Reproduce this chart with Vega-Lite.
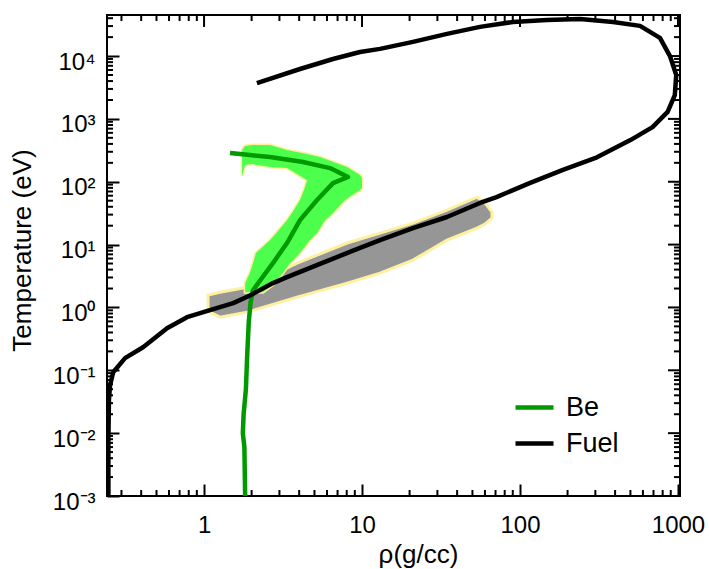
{
  "$schema": "https://vega.github.io/schema/vega-lite/v6.json",
  "width": 573,
  "height": 481,
  "autosize": {"type": "none"},
  "padding": {"left": 107, "top": 15, "right": 29, "bottom": 73},
  "background": "white",
  "config": {
    "font": "Liberation Sans",
    "view": {"stroke": "black", "strokeWidth": 2},
    "axis": {"grid": false, "domain": false, "labelColor": "black", "titleColor": "black", "labelFont": "Liberation Sans", "titleFont": "Liberation Sans", "titleFontWeight": "normal"}
  },
  "datasets": {
    "xmaj": [{"v": 1}, {"v": 10}, {"v": 100}, {"v": 1000}],
    "xmin": [{"v": 0.3}, {"v": 0.4}, {"v": 0.5}, {"v": 0.6}, {"v": 0.7}, {"v": 0.8}, {"v": 0.9}, {"v": 2}, {"v": 3}, {"v": 4}, {"v": 5}, {"v": 6}, {"v": 7}, {"v": 8}, {"v": 9}, {"v": 20}, {"v": 30}, {"v": 40}, {"v": 50}, {"v": 60}, {"v": 70}, {"v": 80}, {"v": 90}, {"v": 200}, {"v": 300}, {"v": 400}, {"v": 500}, {"v": 600}, {"v": 700}, {"v": 800}, {"v": 900}],
    "ymaj": [{"v": 0.001}, {"v": 0.01}, {"v": 0.1}, {"v": 1}, {"v": 10}, {"v": 100}, {"v": 1000}, {"v": 10000}],
    "ymin": [{"v": 0.002}, {"v": 0.003}, {"v": 0.004}, {"v": 0.005}, {"v": 0.006}, {"v": 0.007}, {"v": 0.008}, {"v": 0.009}, {"v": 0.02}, {"v": 0.03}, {"v": 0.04}, {"v": 0.05}, {"v": 0.06}, {"v": 0.07}, {"v": 0.08}, {"v": 0.09}, {"v": 0.2}, {"v": 0.3}, {"v": 0.4}, {"v": 0.5}, {"v": 0.6}, {"v": 0.7}, {"v": 0.8}, {"v": 0.9}, {"v": 2}, {"v": 3}, {"v": 4}, {"v": 5}, {"v": 6}, {"v": 7}, {"v": 8}, {"v": 9}, {"v": 20}, {"v": 30}, {"v": 40}, {"v": 50}, {"v": 60}, {"v": 70}, {"v": 80}, {"v": 90}, {"v": 200}, {"v": 300}, {"v": 400}, {"v": 500}, {"v": 600}, {"v": 700}, {"v": 800}, {"v": 900}, {"v": 2000}, {"v": 3000}, {"v": 4000}, {"v": 5000}, {"v": 6000}, {"v": 7000}, {"v": 8000}, {"v": 9000}, {"v": 20000}, {"v": 30000}, {"v": 40000}],
    "gray": [
      {"rho": 1.06, "lo": 0.873, "hi": 1.57},
      {"rho": 1.26, "lo": 0.701, "hi": 1.75},
      {"rho": 1.87, "lo": 0.842, "hi": 2.10},
      {"rho": 3.88, "lo": 1.46, "hi": 5.07},
      {"rho": 8.04, "lo": 2.44, "hi": 10.6},
      {"rho": 13.0, "lo": 3.52, "hi": 15.2},
      {"rho": 21.0, "lo": 5.67, "hi": 22.0},
      {"rho": 34.5, "lo": 11.8, "hi": 35.4},
      {"rho": 53.4, "lo": 18.3, "hi": 57.0},
      {"rho": 60.0, "lo": 21.2, "hi": 46.0},
      {"rho": 66.5, "lo": 26.4, "hi": 32.9}
    ],
    "arm": [
      {"rho": 1.74, "lo": 123, "hi": 320},
      {"rho": 1.82, "lo": 184, "hi": 371},
      {"rho": 2.01, "lo": 191, "hi": 384},
      {"rho": 2.62, "lo": 171, "hi": 384},
      {"rho": 3.35, "lo": 165, "hi": 320},
      {"rho": 4.49, "lo": 106, "hi": 276},
      {"rho": 5.42, "lo": 79.4, "hi": 247},
      {"rho": 8.04, "lo": 61, "hi": 171},
      {"rho": 9.71, "lo": 74, "hi": 128},
      {"rho": 10.0, "lo": 79.4, "hi": 115}
    ],
    "leg": [
      {"T": 1.75, "left": 1.82, "right": 2.36},
      {"T": 2.44, "left": 1.82, "right": 2.81},
      {"T": 3.52, "left": 1.95, "right": 3.16},
      {"T": 5.07, "left": 2.04, "right": 3.50},
      {"T": 7.32, "left": 2.13, "right": 4.05},
      {"T": 11.8, "left": 2.62, "right": 4.69},
      {"T": 15.2, "left": 2.86, "right": 5.19},
      {"T": 24.5, "left": 3.35, "right": 5.83},
      {"T": 31.7, "left": 3.60, "right": 6.55},
      {"T": 51.2, "left": 4.05, "right": 7.80},
      {"T": 74, "left": 4.29, "right": 9.71},
      {"T": 106, "left": 4.49, "right": 10.0}
    ],
    "lines": [
      {"series": "Be", "i": 1, "rho": 1.82, "T": 0.001},
      {"series": "Be", "i": 2, "rho": 1.80, "T": 0.006},
      {"series": "Be", "i": 3, "rho": 1.76, "T": 0.01},
      {"series": "Be", "i": 4, "rho": 1.78, "T": 0.02},
      {"series": "Be", "i": 5, "rho": 1.84, "T": 0.05},
      {"series": "Be", "i": 6, "rho": 1.88, "T": 0.2},
      {"series": "Be", "i": 7, "rho": 1.92, "T": 0.6},
      {"series": "Be", "i": 8, "rho": 1.97, "T": 1.2},
      {"series": "Be", "i": 9, "rho": 2.04, "T": 1.88},
      {"series": "Be", "i": 10, "rho": 2.73, "T": 5.07},
      {"series": "Be", "i": 11, "rho": 3.35, "T": 10.6},
      {"series": "Be", "i": 12, "rho": 4.05, "T": 24.5},
      {"series": "Be", "i": 13, "rho": 5.19, "T": 51.2},
      {"series": "Be", "i": 14, "rho": 6.55, "T": 95},
      {"series": "Be", "i": 15, "rho": 8.15, "T": 119},
      {"series": "Be", "i": 16, "rho": 6.27, "T": 165},
      {"series": "Be", "i": 17, "rho": 4.23, "T": 206},
      {"series": "Be", "i": 18, "rho": 2.62, "T": 247},
      {"series": "Be", "i": 19, "rho": 1.95, "T": 266},
      {"series": "Be", "i": 20, "rho": 1.46, "T": 287},
      {"series": "Fuel", "i": 1, "rho": 0.248, "T": 0.001},
      {"series": "Fuel", "i": 2, "rho": 0.248, "T": 0.0077},
      {"series": "Fuel", "i": 3, "rho": 0.25, "T": 0.034},
      {"series": "Fuel", "i": 4, "rho": 0.254, "T": 0.058},
      {"series": "Fuel", "i": 5, "rho": 0.266, "T": 0.093},
      {"series": "Fuel", "i": 6, "rho": 0.316, "T": 0.156},
      {"series": "Fuel", "i": 7, "rho": 0.411, "T": 0.233},
      {"series": "Fuel", "i": 8, "rho": 0.583, "T": 0.468},
      {"series": "Fuel", "i": 9, "rho": 0.78, "T": 0.70},
      {"series": "Fuel", "i": 10, "rho": 1.09, "T": 0.906},
      {"series": "Fuel", "i": 11, "rho": 1.53, "T": 1.17},
      {"series": "Fuel", "i": 12, "rho": 1.95, "T": 1.55},
      {"series": "Fuel", "i": 13, "rho": 2.73, "T": 2.44},
      {"series": "Fuel", "i": 14, "rho": 3.35, "T": 3.03},
      {"series": "Fuel", "i": 15, "rho": 5.42, "T": 4.94},
      {"series": "Fuel", "i": 16, "rho": 8.77, "T": 8.0},
      {"series": "Fuel", "i": 17, "rho": 13, "T": 11.8},
      {"series": "Fuel", "i": 18, "rho": 21, "T": 18.3},
      {"series": "Fuel", "i": 19, "rho": 34.5, "T": 27.5},
      {"series": "Fuel", "i": 20, "rho": 55.8, "T": 46},
      {"series": "Fuel", "i": 21, "rho": 71, "T": 57},
      {"series": "Fuel", "i": 22, "rho": 115, "T": 95},
      {"series": "Fuel", "i": 23, "rho": 187, "T": 155},
      {"series": "Fuel", "i": 24, "rho": 307, "T": 245},
      {"series": "Fuel", "i": 25, "rho": 500, "T": 460},
      {"series": "Fuel", "i": 26, "rho": 690, "T": 740},
      {"series": "Fuel", "i": 27, "rho": 860, "T": 1290},
      {"series": "Fuel", "i": 28, "rho": 955, "T": 2400},
      {"series": "Fuel", "i": 29, "rho": 975, "T": 5000},
      {"series": "Fuel", "i": 30, "rho": 890, "T": 10000},
      {"series": "Fuel", "i": 31, "rho": 769, "T": 19500},
      {"series": "Fuel", "i": 32, "rho": 575, "T": 30200},
      {"series": "Fuel", "i": 33, "rho": 388, "T": 34900},
      {"series": "Fuel", "i": 34, "rho": 240, "T": 39000},
      {"series": "Fuel", "i": 35, "rho": 148, "T": 37600},
      {"series": "Fuel", "i": 36, "rho": 90, "T": 34900},
      {"series": "Fuel", "i": 37, "rho": 55.8, "T": 29100},
      {"series": "Fuel", "i": 38, "rho": 34.5, "T": 22500},
      {"series": "Fuel", "i": 39, "rho": 21, "T": 16800},
      {"series": "Fuel", "i": 40, "rho": 13, "T": 13000},
      {"series": "Fuel", "i": 41, "rho": 9.71, "T": 11600},
      {"series": "Fuel", "i": 42, "rho": 6.55, "T": 8980},
      {"series": "Fuel", "i": 43, "rho": 4.05, "T": 6220},
      {"series": "Fuel", "i": 44, "rho": 2.16, "T": 3720}
    ]
  },
  "layer": [
    {
      "data": {"name": "gray"},
      "mark": {"type": "area", "fill": "#969696", "stroke": "#fff0a0", "strokeWidth": 3, "opacity": 1},
      "encoding": {
        "x": {"field": "rho", "type": "quantitative", "scale": {"type": "log", "domain": [0.243, 1030], "nice": false}},
        "y": {"field": "lo", "type": "quantitative", "scale": {"type": "log", "domain": [0.001, 45000], "nice": false}},
        "y2": {"field": "hi"}
      }
    },
    {
      "data": {"name": "arm"},
      "mark": {"type": "area", "fill": "#4dff4d", "stroke": "#fff0a0", "strokeWidth": 3, "opacity": 1},
      "encoding": {
        "x": {"field": "rho", "type": "quantitative", "scale": {"type": "log", "domain": [0.243, 1030], "nice": false}},
        "y": {"field": "lo", "type": "quantitative", "scale": {"type": "log", "domain": [0.001, 45000], "nice": false}},
        "y2": {"field": "hi"}
      }
    },
    {
      "data": {"name": "leg"},
      "mark": {"type": "area", "orient": "horizontal", "fill": "#4dff4d", "stroke": "#fff0a0", "strokeWidth": 3, "opacity": 1},
      "encoding": {
        "y": {"field": "T", "type": "quantitative", "scale": {"type": "log", "domain": [0.001, 45000], "nice": false}},
        "x": {"field": "left", "type": "quantitative", "scale": {"type": "log", "domain": [0.243, 1030], "nice": false}},
        "x2": {"field": "right"}
      }
    },
    {
      "data": {"name": "arm"},
      "mark": {"type": "area", "fill": "#4dff4d", "opacity": 1},
      "encoding": {
        "x": {"field": "rho", "type": "quantitative", "scale": {"type": "log", "domain": [0.243, 1030], "nice": false}},
        "y": {"field": "lo", "type": "quantitative", "scale": {"type": "log", "domain": [0.001, 45000], "nice": false}},
        "y2": {"field": "hi"}
      }
    },
    {
      "data": {"name": "leg"},
      "mark": {"type": "area", "orient": "horizontal", "fill": "#4dff4d", "opacity": 1},
      "encoding": {
        "y": {"field": "T", "type": "quantitative", "scale": {"type": "log", "domain": [0.001, 45000], "nice": false}},
        "x": {"field": "left", "type": "quantitative", "scale": {"type": "log", "domain": [0.243, 1030], "nice": false}},
        "x2": {"field": "right"}
      }
    },
    {
      "data": {"name": "xmin"},
      "mark": {"type": "rule", "strokeWidth": 2, "color": "black"},
      "encoding": {
        "x": {"field": "v", "type": "quantitative", "scale": {"type": "log", "domain": [0.243, 1030], "nice": false}},
        "y": {"datum": 0.001, "type": "quantitative", "scale": {"type": "log", "domain": [0.001, 45000], "nice": false}},
        "y2": {"datum": 0.001246}
      }
    },
    {
      "data": {"name": "xmin"},
      "mark": {"type": "rule", "strokeWidth": 2, "color": "black"},
      "encoding": {
        "x": {"field": "v", "type": "quantitative", "scale": {"type": "log", "domain": [0.243, 1030], "nice": false}},
        "y": {"datum": 45000, "type": "quantitative", "scale": {"type": "log", "domain": [0.001, 45000], "nice": false}},
        "y2": {"datum": 36100}
      }
    },
    {
      "data": {"name": "xmaj"},
      "mark": {"type": "rule", "strokeWidth": 2, "color": "black"},
      "encoding": {
        "x": {"field": "v", "type": "quantitative", "scale": {"type": "log", "domain": [0.243, 1030], "nice": false}},
        "y": {"datum": 45000, "type": "quantitative", "scale": {"type": "log", "domain": [0.001, 45000], "nice": false}},
        "y2": {"datum": 29000}
      }
    },
    {
      "data": {"name": "ymin"},
      "mark": {"type": "rule", "strokeWidth": 2, "color": "black"},
      "encoding": {
        "y": {"field": "v", "type": "quantitative", "scale": {"type": "log", "domain": [0.001, 45000], "nice": false}},
        "x": {"datum": 0.243, "type": "quantitative", "scale": {"type": "log", "domain": [0.243, 1030], "nice": false}},
        "x2": {"datum": 0.2652}
      }
    },
    {
      "data": {"name": "ymin"},
      "mark": {"type": "rule", "strokeWidth": 2, "color": "black"},
      "encoding": {
        "y": {"field": "v", "type": "quantitative", "scale": {"type": "log", "domain": [0.001, 45000], "nice": false}},
        "x": {"datum": 1030, "type": "quantitative", "scale": {"type": "log", "domain": [0.243, 1030], "nice": false}},
        "x2": {"datum": 943.7}
      }
    },
    {
      "data": {"name": "ymaj"},
      "mark": {"type": "rule", "strokeWidth": 2, "color": "black"},
      "encoding": {
        "y": {"field": "v", "type": "quantitative", "scale": {"type": "log", "domain": [0.001, 45000], "nice": false}},
        "x": {"datum": 1030, "type": "quantitative", "scale": {"type": "log", "domain": [0.243, 1030], "nice": false}},
        "x2": {"datum": 864.8}
      }
    },
    {
      "data": {"name": "lines"},
      "mark": {"type": "line", "strokeWidth": 4.5, "strokeJoin": "round", "strokeCap": "butt"},
      "encoding": {
        "x": {"field": "rho", "type": "quantitative", "scale": {"type": "log", "domain": [0.243, 1030], "nice": false},
          "axis": {"orient": "bottom", "ticks": true, "tickSize": -12, "tickWidth": 2, "tickColor": "black", "grid": false, "domain": false, "title": "ρ(g/cc)", "titleFontSize": 26, "titleX": 311, "titleY": 58, "titleBaseline": "middle", "titleAlign": "center",
            "labelFontSize": 24, "labelPadding": 29, "labelFlush": false,
            "values": [1, 10, 100, 1000],
            "labelExpr": "format(datum.value, 'd')"}},
        "y": {"field": "T", "type": "quantitative", "scale": {"type": "log", "domain": [0.001, 45000], "nice": false},
          "axis": {"orient": "left", "ticks": true, "tickSize": -12, "tickWidth": 2, "tickColor": "black", "grid": false, "domain": false, "title": "Temperature (eV)", "titleFontSize": 26, "titleX": -85, "titleY": 235, "titleBaseline": "middle", "titleAlign": "center", "titleAngle": -90,
            "labelFontSize": 24, "labelPadding": 24, "labelOffset": 6, "labelFlush": false,
            "values": [0.001, 0.01, 0.1, 1, 10, 100, 1000, 10000],
            "labelExpr": "datum.value === 0.001 ? '10⁻³' : datum.value === 0.01 ? '10⁻²' : datum.value === 0.1 ? '10⁻¹' : datum.value === 1 ? '10⁰' : datum.value === 10 ? '10¹' : datum.value === 100 ? '10²' : datum.value === 1000 ? '10³' : datum.value === 10000 ? '10⁴' : ''"}},
        "color": {"field": "series", "type": "nominal", "scale": {"domain": ["Be", "Fuel"], "range": ["#009900", "#000000"]},
          "legend": {"orient": "none", "legendX": 406, "legendY": 371, "title": null, "symbolType": "stroke", "symbolSize": 1444, "symbolStrokeWidth": 4.5, "labelFontSize": 27, "labelOffset": 10, "padding": 0, "rowPadding": 1, "labelFont": "Liberation Sans", "labelColor": "black"}},
        "order": {"field": "i", "type": "quantitative"}
      }
    }
  ]
}
